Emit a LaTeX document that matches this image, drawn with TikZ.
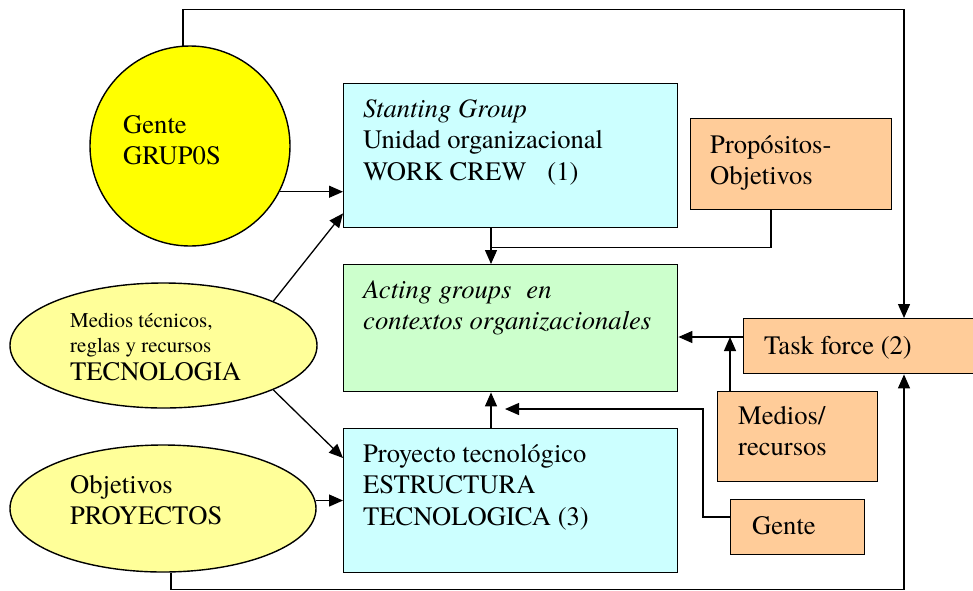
\documentclass[tikz,border=0pt]{standalone}
\usepackage{fontspec}
\setmainfont{texgyretermes}[Extension=.otf, UprightFont=*-regular, ItalicFont=*-italic, BoldFont=*-bold, BoldItalicFont=*-bolditalic]
\usetikzlibrary{arrows.meta,shapes.geometric,calc}
\definecolor{sunyellow}{HTML}{FFFF00}
\definecolor{paleyellow}{HTML}{FFFF99}
\definecolor{palecyan}{HTML}{CCFFFF}
\definecolor{palegreen}{HTML}{CCFFCC}
\definecolor{paleorange}{HTML}{FFCC99}
\begin{document}
\begin{tikzpicture}[x=1pt,y=-1pt,
  frame/.style={draw=black, line width=1.4pt},
  boxnode/.style={frame, rectangle, inner sep=0pt, anchor=north west},
  link/.style={line width=1.3pt},
  arr/.style={link, -{Triangle[length=14pt,width=12pt]}},
  txt/.style={inner sep=0pt, anchor=north west, align=left,
    font=\fontsize{26.6}{31.5}\selectfont},
  smalltxt/.style={inner sep=0pt, anchor=north west, align=left,
    font=\fontsize{21}{25}\selectfont},
  onetxt/.style={inner sep=0pt, anchor=base west,
    font=\fontsize{26.6}{31.5}\selectfont}]
\useasboundingbox (0,0) rectangle (973,590);

% shapes
\node[circle, frame, fill=sunyellow, minimum size=200pt, inner sep=0pt] (gente) at (190,146) {};
\node[ellipse, frame, fill=paleyellow, minimum width=307pt, minimum height=125pt, inner sep=0pt] (tec) at (163.5,345.5) {};
\node[ellipse, frame, fill=paleyellow, minimum width=306pt, minimum height=127pt, inner sep=0pt] (proj) at (163,508.5) {};
\node[boxnode, fill=palecyan, minimum width=334pt, minimum height=144pt] (b1) at (343,83) {};
\node[boxnode, fill=palegreen, minimum width=334pt, minimum height=127pt] (green) at (343,264) {};
\node[boxnode, fill=palecyan, minimum width=334pt, minimum height=144pt] (b3) at (343,428) {};
\node[boxnode, fill=paleorange, minimum width=201pt, minimum height=91pt] (prop) at (690,118) {};
\node[boxnode, fill=paleorange, minimum width=236pt, minimum height=55pt] (tf) at (743,318) {};
\node[boxnode, fill=paleorange, minimum width=160pt, minimum height=90pt] (med) at (717,391) {};
\node[boxnode, fill=paleorange, minimum width=134pt, minimum height=55pt] (gn) at (730,499) {};

% texts
\node[txt] (gente-t) at (123,111) {\strut Gente\\GRUP0S};
\node[txt] (b1-t) at (363,95) {\strut\textit{Stanting Group}\\Unidad organizacional\\WORK CREW\hspace{21pt}(1)};
\node[txt] (prop-t) at (710,131) {\strut Propósitos-\\Objetivos};
\node[txt, font=\fontsize{26.6}{31.5}\selectfont\itshape] (green-t) at (363,276) {\strut Acting groups\hspace{15pt}en\\contextos organizacionales};
\node[onetxt] (tf-t) at (764,354) {Task force (2)};
\node[txt] (med-t) at (738,402) {\strut Medios/\\recursos};
\node[onetxt] (gn-t) at (752,534) {Gente};
\node[txt] (b3-t) at (363,440) {\strut Proyecto tecnológico\\ESTRUCTURA\\TECNOLOGICA (3)};
\node[smalltxt] (tec-t) at (70,309.5) {\strut Medios técnicos,\\reglas y recursos\\[3pt]{\fontsize{26.6}{31.5}\selectfont TECNOLOGIA}};
\node[txt] (proj-t) at (70,471) {\strut Objetivos\\PROYECTOS};

% connectors
\draw[arr] (gente.-27) -- (gente.-27 -| b1.west);
\draw[arr] (tec.22) -- ($(b1.south west)+(0,-15)$);
\draw[arr] (tec.-22) -- ($(b3.north west)+(0,30)$);
\draw[arr] (proj.3) -- (proj.3 -| b3.west);

\coordinate (j1) at ($(b1.south west)+(148,19)$);
\draw[arr] ($(b1.south west)+(148,0)$) -- ($(green.north west)+(148,0)$);
\draw[link] ($(prop.south west)+(81,0)$) |- (j1);
\draw[arr] ($(b3.north west)+(148,0)$) -- ($(green.south west)+(148,0)$);

\draw[arr] ($(tf.north west)+(0,19)$) -- ($(green.north east)+(0,73)$);
\draw[arr] ($(med.north west)+(13,0)$) -- ($(tf.north west)+(-13,19)$);

\coordinate (gtip) at ($(b3.north west)+(162,-19)$);
\draw[arr] ($(gn.north west)+(0,18)$) -- ++(-27,0) |- (gtip);

\draw[arr] (gente.94) -- ++(0,-36) -| ($(tf.north west)+(161,0)$);
\draw[arr] (proj.-83) -- ++(0,17) -| ($(tf.south west)+(161,0)$);
\end{tikzpicture}
\end{document}
